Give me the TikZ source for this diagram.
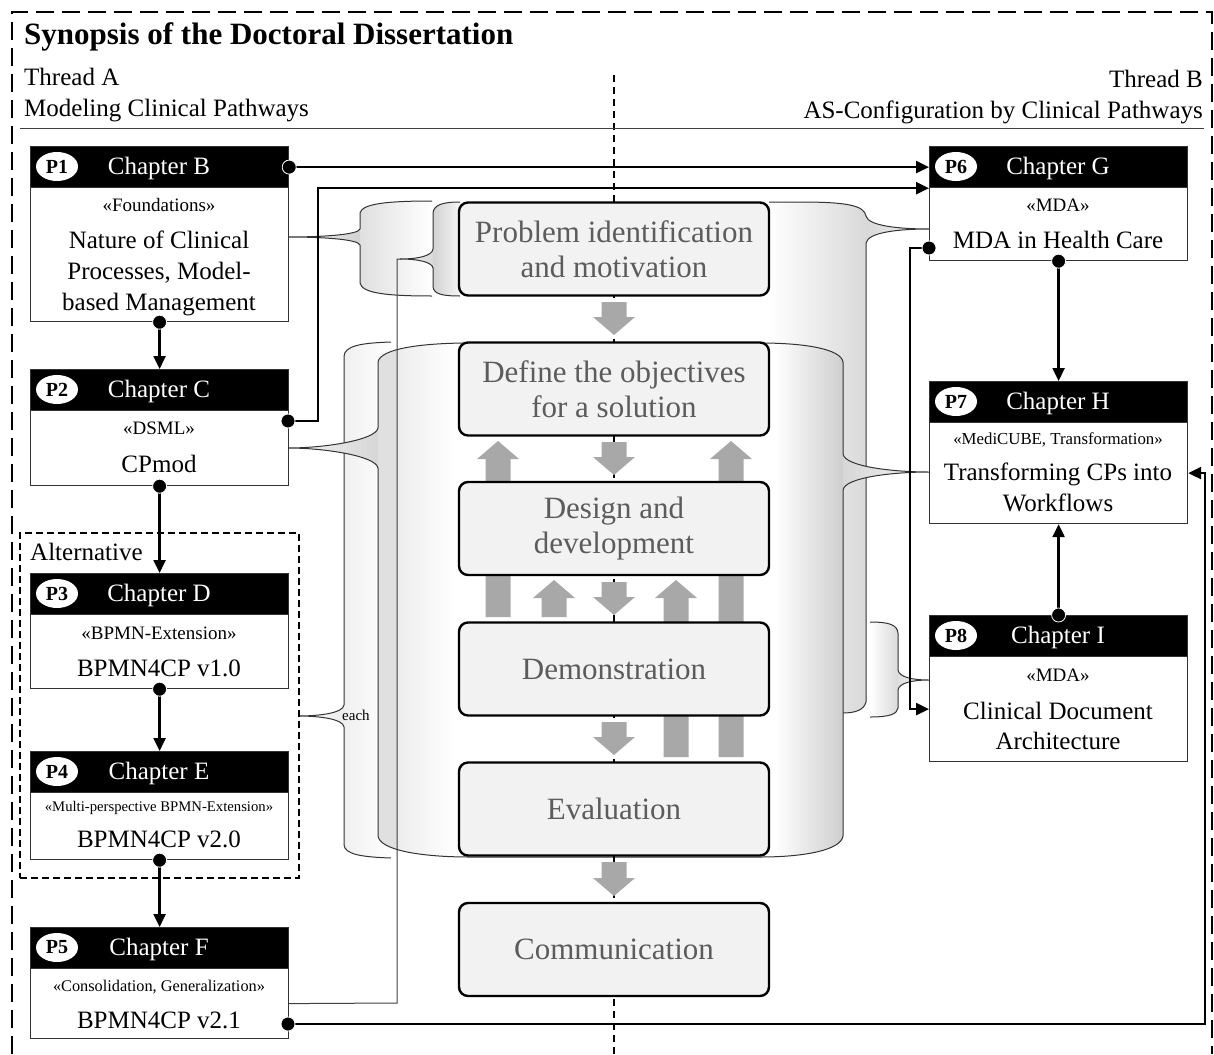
\documentclass[tikz,border=0pt]{standalone}
\usepackage{fontspec}
\setmainfont{Liberation Serif}
\usetikzlibrary{arrows.meta,shapes.geometric}
\newcommand\fsz[2]{\fontsize{#1}{#2}\selectfont}
\tikzset{
 headbox/.style={fill=black, draw=black!80, line width=1.2pt, minimum width=258pt, minimum height=41pt, anchor=north west, inner sep=0pt},
 bodybox/.style={fill=white, draw=black!80, line width=1.2pt, minimum width=258pt, anchor=north west, inner sep=0pt},
 plabel/.style={ellipse, fill=white, minimum width=42pt, minimum height=29pt, inner sep=0pt, font=\bfseries\fsz{20}{20}},
 htext/.style={text=white, font=\fsz{25}{30}, anchor=base, inner sep=0pt},
 stereo/.style={font=\fsz{19}{22}, anchor=base, inner sep=0pt},
 btext/.style={font=\fsz{25}{31}, anchor=base, inner sep=0pt},
 proc/.style={rounded corners=9pt, fill=gray!10, draw=black, line width=2.4pt, minimum width=310pt, minimum height=93pt, text=black!64, font=\fsz{31}{34.5}, align=center, inner sep=0pt},
 conn/.style={line width=2.4pt, -{Triangle[length=13pt,width=12pt]}},
 thinline/.style={line width=1pt, draw=black!75},
 shp/.style={line width=1pt, draw=black!80},
 garrow/.style={fill=black!34},
 dot/.style={fill=black, draw=white, line width=0.8pt},
}
\newcommand\chap[6]{%
 \node[headbox] (h#1) at (#2,#3) {};
 \node[bodybox, minimum height=#6pt] (b#1) at (#2,#3+41) {};
 \node[plabel] (l#1) at (#2+27,#3+20.5) {#4};
 \node[htext] (t#1) at (#2+129,#3+28.5) {#5};
}
\newcommand\gdn[4]{\fill[garrow] (#1-12.5,#2) -- (#1+12.5,#2) -- (#1+12.5,#3-18) -- (#1+21,#3-18) -- (#1,#3) -- (#1-21,#3-18) -- (#1-12.5,#3-18) -- cycle;}
\newcommand\gup[4]{\fill[garrow] (#1-12.5,#2) -- (#1+12.5,#2) -- (#1+12.5,#3+18) -- (#1+21,#3+18) -- (#1,#3) -- (#1-21,#3+18) -- (#1-12.5,#3+18) -- cycle;}
\newcommand\pSix{(700,202) -- (800,202) .. controls (850,202) and (864,206) .. (866,216) .. controls (868,226) and (900,229) .. (929,229) .. controls (900,229) and (868,232) .. (866,243) -- (866,702) .. controls (864,710) and (855,713) .. (843,713) -- (700,713) -- cycle}
\newcommand\pEight{(870,622) .. controls (890,622) and (897,625) .. (898,633) -- (898,670) .. controls (899,677) and (912,680) .. (929,680) .. controls (912,680) and (899,683) .. (898,690) -- (898,708) .. controls (897,714) and (890,717) .. (870,717)}
\newcommand\pEach{(391,342) .. controls (360,343) and (345,346) .. (344,356) -- (344,705) .. controls (343,713) and (320,716) .. (298,716) .. controls (320,716) and (343,719) .. (344,727) -- (344,845) .. controls (345,854) and (360,857) .. (391,858)}
\newcommand\pBig{(378,362) .. controls (380,349) and (420,343) .. (470,343) -- (760,343) .. controls (805,343) and (841,349) .. (843,362) -- (843,454) .. controls (845,467) and (895,472) .. (929,472) .. controls (895,472) and (845,477) .. (843,490) -- (843,836) .. controls (841,850) and (805,857) .. (760,857) -- (470,857) .. controls (420,857) and (380,850) .. (378,836) -- (378,468) .. controls (376,456) and (325,448) .. (288,448) .. controls (325,448) and (376,440) .. (378,428) -- cycle}
\newcommand\pOne{(432,201) .. controls (385,201) and (362,204) .. (360,213) -- (360,229) .. controls (358,235) and (320,237) .. (288,237) .. controls (320,237) and (358,239) .. (360,245) -- (360,283) .. controls (362,293) and (385,296) .. (432,296)}
\newcommand\pFive{(460,202) .. controls (442,202) and (434,205) .. (433,213) -- (433,249) .. controls (432,256) and (418,259) .. (400,259) .. controls (418,259) and (432,262) .. (433,268) -- (433,287) .. controls (434,294) and (442,296) .. (460,296)}
\begin{document}
\begin{tikzpicture}[x=1pt,y=-1pt]
\useasboundingbox (0,0) rectangle (1214,1054);
\fill[white] (0,0) rectangle (1214,1054);

% --- background shapes ---
\begin{scope}
 \clip \pSix;
 \shade[left color=white, right color=gray!30] (769,195) rectangle (866,720);
 \shade[left color=gray!30, right color=gray!10] (866,195) rectangle (930,720);
\end{scope}
\draw[shp] (769,202) -- (800,202) .. controls (850,202) and (864,206) .. (866,216) .. controls (868,226) and (900,229) .. (929,229) .. controls (900,229) and (868,232) .. (866,243) -- (866,702) .. controls (864,710) and (855,713) .. (843,713);

\begin{scope}
 \clip \pEight -- cycle;
 \shade[left color=white, right color=gray!30] (870,615) rectangle (898,720);
 \shade[left color=gray!25, right color=gray!8] (898,615) rectangle (930,720);
\end{scope}
\draw[shp] \pEight;

\begin{scope}
 \clip \pEach -- cycle;
 \shade[left color=white, right color=gray!15] (296,335) rectangle (344,865);
 \shade[left color=gray!12, right color=white] (344,335) rectangle (391,865);
\end{scope}
\draw[shp] \pEach;

\begin{scope}
 \clip \pBig;
 \shade[left color=gray!8, right color=gray!32] (286,335) rectangle (378,865);
 \fill[gray!24] (378,335) rectangle (398,865);
 \shade[left color=gray!14, right color=white] (398,335) rectangle (455,865);
 \fill[white] (455,335) rectangle (775,865);
 \shade[left color=white, right color=gray!38] (775,335) rectangle (843,865);
 \shade[left color=gray!32, right color=gray!8] (843,335) rectangle (930,865);
\end{scope}
\draw[shp] \pBig;

\begin{scope}
 \clip \pOne -- cycle;
 \shade[left color=gray!8, right color=gray!35] (286,195) rectangle (360,300);
 \shade[left color=gray!25, right color=white] (360,195) rectangle (432,300);
\end{scope}
\draw[shp] \pOne;

\begin{scope}
 \clip \pFive -- cycle;
 \shade[left color=gray!10, right color=gray!30] (398,195) rectangle (433,300);
 \shade[left color=gray!35, right color=gray!8] (433,195) rectangle (460,300);
\end{scope}
\draw[shp] \pFive;

% center dashed line
\draw[line width=1.3pt, dash pattern=on 7pt off 5pt] (614,75) -- (614,1054);

% gray arrows
\gdn{614}{302}{335}{}
\gdn{614}{442}{475}{}
\gdn{614}{582}{615}{}
\gdn{614}{722}{755}{}
\gdn{614}{862}{896}{}
\gup{498}{617}{441}{}
\gup{554}{617}{580}{}
\gup{676}{757}{580}{}
\gup{731}{757}{441}{}

% process boxes
\node[proc] (pr1) at (614,249) {Problem identification\\and motivation};
\node[proc] (pr2) at (614,389) {Define the objectives\\for a solution};
\node[proc] (pr3) at (614,528.5) {Design and\\development};
\node[proc] (pr4) at (614,669) {Demonstration};
\node[proc] (pr5) at (614,809) {Evaluation};
\node[proc] (pr6) at (614,949.5) {Communication};

% alternative box
\node[draw, line width=2pt, dash pattern=on 7pt off 4pt, minimum width=279pt, minimum height=345pt, anchor=north west, inner sep=0pt] (alt) at (19,532) {};
\node[btext, anchor=base west] (altl) at (30,560) {Alternative};
\node[anchor=base west, font=\fsz{15}{18}, inner sep=0pt] (each) at (342,720) {each};

% chapters
\chap{1}{30}{146}{P1}{Chapter B}{134}
\chap{2}{30}{369}{P2}{Chapter C}{75}
\chap{3}{30}{573}{P3}{Chapter D}{74}
\chap{4}{30}{751}{P4}{Chapter E}{67}
\chap{5}{30}{927}{P5}{Chapter F}{70}
\chap{6}{929}{146}{P6}{Chapter G}{73}
\chap{7}{929}{381}{P7}{Chapter H}{101}
\chap{8}{929}{615}{P8}{Chapter I}{105}

\node[stereo] (s1) at (159,211) {«Foundations»};
\node[btext] (n1a) at (159,248) {Nature of Clinical};
\node[btext] (n1b) at (159,279) {Processes, Model-};
\node[btext] (n1c) at (159,310) {based Management};
\node[stereo] (s2) at (159,434) {«DSML»};
\node[btext] (n2) at (159,472) {CPmod};
\node[stereo] (s3) at (159,639) {«BPMN-Extension»};
\node[btext] (n3) at (159,676) {BPMN4CP v1.0};
\node[stereo, font=\fsz{14.7}{18}] (s4) at (159,811) {«Multi-perspective BPMN-Extension»};
\node[btext] (n4) at (159,847) {BPMN4CP v2.0};
\node[stereo, font=\fsz{16.3}{20}] (s5) at (159,991) {«Consolidation, Generalization»};
\node[btext] (n5) at (159,1028) {BPMN4CP v2.1};
\node[stereo] (s6) at (1058,211) {«MDA»};
\node[btext] (n6) at (1058,248) {MDA in Health Care};
\node[stereo, font=\fsz{16.8}{20}] (s7) at (1058,444) {«MediCUBE, Transformation»};
\node[btext] (n7a) at (1058,480) {Transforming CPs into};
\node[btext] (n7b) at (1058,511) {Workflows};
\node[stereo] (s8) at (1058,681) {«MDA»};
\node[btext] (n8a) at (1058,719) {Clinical Document};
\node[btext] (n8b) at (1058,749) {Architecture};

% thin connector P5 -> brace
\draw[thinline] (b5.east) -- (397,1003) -- (397,259) -- (401,259);

% connectors
\coordinate (c2) at (288,421);
\coordinate (c6) at (929,248);
\coordinate (c5) at (288,1024);
\draw[conn] (h1.east) -- (h6.west);
\draw[conn] (c2) -- (318,421) |- (h6.south west);
\draw[conn] (b1.south) -- (h2.north);
\draw[conn] (b2.south) -- (h3.north);
\draw[conn] (b3.south) -- (h4.north);
\draw[conn] (b4.south) -- (h5.north);
\draw[conn] (b6.south) -- (h7.north);
\draw[conn] (h8.north) -- (b7.south);
\draw[conn] (c6) -- (910,248) |- (b8.west);
\draw[conn] (c5) -- (1205,1024) |- (b7.east);
\foreach \p in {h1.east, c2, b1.south, b2.south, b3.south, b4.south, b6.south, h8.north, c6, c5}
 \draw[dot] (\p) circle (7pt);

% frame and headings
\draw[line width=2.5pt, dash pattern=on 18pt off 8pt] (12,1054) -- (12,12) -- (1212,12) -- (1212,1054);
\node[anchor=base west, font=\bfseries\fsz{31}{36}, inner sep=0pt] (title) at (24,45) {Synopsis of the Doctoral Dissertation};
\node[btext, anchor=base west] (ta1) at (24,86) {Thread A};
\node[btext, anchor=base west] (ta2) at (24,117) {Modeling Clinical Pathways};
\node[btext, anchor=base east] (tb1) at (1203,88) {Thread B};
\node[btext, anchor=base east] (tb2) at (1203,118) {AS-Configuration by Clinical Pathways};
\draw[black!75, line width=0.8pt] (20,128) -- (1204,128);
\end{tikzpicture}
\end{document}
